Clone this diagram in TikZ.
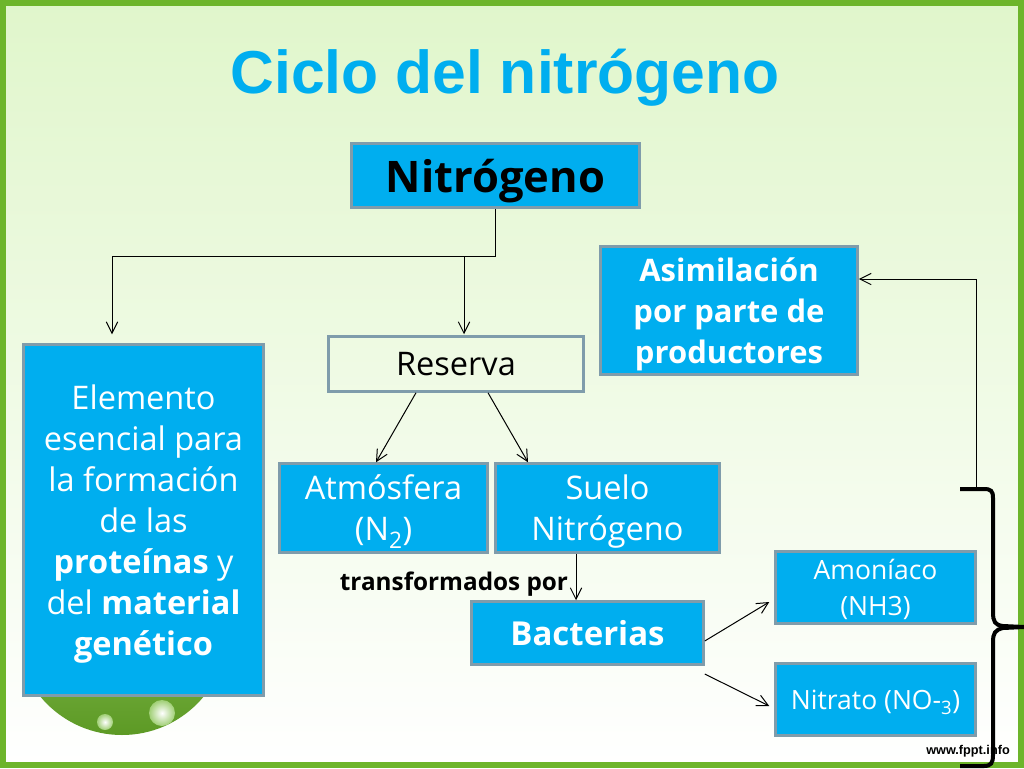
\documentclass[tikz,border=0pt]{standalone}
\usepackage{fontspec}
\setmainfont{Open Sans}
\newfontfamily\titlefont{Liberation Sans}
\usetikzlibrary{arrows.meta}
\definecolor{boxblue}{HTML}{00AEEF}
\definecolor{boxedge}{HTML}{7F9CAB}
\definecolor{framegreen}{HTML}{6DB52B}
\definecolor{paletop}{HTML}{E0F6CB}
\newcommand{\flowTip}{{Straight Barb[length=4mm,width=4mm,line width=1pt]}}
\newcommand{\bodyFont}{\fontsize{32.5}{41}\selectfont}
\newcommand{\smallFont}{\fontsize{26.5}{36}\selectfont}
\tikzset{
	blockbox/.style={draw=boxedge, line width=2.5pt, fill=boxblue, text=white, align=center, inner sep=0pt, text depth=0pt, font=\bodyFont},
	flow/.style={-\flowTip, line width=1pt},
}

\begin{document}
\begin{tikzpicture}[x=1pt, y=-1pt]
	\useasboundingbox (0,0) rectangle (1024,768);
	
	% background and frame
	\shade[top color=paletop, bottom color=white] (0,0) rectangle (1024,768);
	\draw[framegreen, line width=6pt] (3,3) rectangle (1021,765);
	
	% leaf under the big box
	\begin{scope}
		\clip (0,690) rectangle (300,760);
		\shade[top color=framegreen!70!white, bottom color=framegreen!85!black] (122,629) circle (106);
	\end{scope}
	\shade[inner color=white, outer color=framegreen!65!white] (105,722) circle (8);
	\shade[inner color=white, outer color=framegreen!65!white] (162,713) circle (13);
	
	\node[font=\titlefont\bfseries\fontsize{60.6}{70}\selectfont, text=boxblue] (title) at (505,78) {Ciclo del nitrógeno};
	
	\node[blockbox, minimum width=288pt, minimum height=64pt, text=black, text depth=-3pt, font=\bfseries\fontsize{43.5}{48}\selectfont] (nitrogeno) at (495.5,175.5) {Nitrógeno};
	\node[blockbox, minimum width=257pt, minimum height=128pt, text depth=-3pt, font=\fontsize{31}{41}\selectfont\bfseries] (asimilacion) at (729,310.5) {Asimilación\\por parte de\\productores};
	\node[blockbox, minimum width=255pt, minimum height=55pt, fill=none, text=black, text depth=-4pt] (reserva) at (456,364) {Reserva};
	\node[blockbox, minimum width=240pt, minimum height=351pt] (elemento) at (143.5,520) {Elemento\\esencial para\\la formación\\de las\\\textbf{proteínas} y\\del \textbf{material}\\\textbf{genético}};
	\node[blockbox, minimum width=208pt, minimum height=89pt] (atmosfera) at (383.5,508) {Atmósfera\\(N\textsubscript{2})};
	\node[blockbox, minimum width=224pt, minimum height=89pt] (suelo) at (607.5,508) {Suelo\\Nitrógeno};
	\node[blockbox, minimum width=232pt, minimum height=63pt, font=\fontsize{33}{41}\selectfont\bfseries] (bacterias) at (587.5,633) {Bacterias};
	\node[blockbox, minimum width=200pt, minimum height=72pt, font=\smallFont] (amoniaco) at (875.5,587.5) {Amoníaco\\(NH3)};
	\node[blockbox, minimum width=200pt, minimum height=72pt, font=\smallFont] (nitrato) at (875.5,699.5) {Nitrato (NO-\textsubscript{3})};
	
	\node[font=\bfseries\fontsize{24.3}{28}\selectfont] (transformados) at (454,584) {transformados por};
	\node[font=\titlefont\bfseries\fontsize{12.7}{16}\selectfont] (fppt) at (968,751) {www.fppt.info};
	
	% connectors
	\coordinate (splitR) at (nitrogeno.south |- 0,256);
	\coordinate (splitM) at (464,256);
	\coordinate (bracetop) at (976,488);
	\coordinate (braceup) at (976,279);
	\draw[line width=1pt] (nitrogeno.south) -- (splitR);
	\draw[flow] (splitR) -| ([xshift=-31.5pt, yshift=9pt]elemento.north);
	\draw[flow] (splitM) -- ([xshift=8pt, yshift=1pt]reserva.north);
	\draw[flow] ([xshift=-40pt]reserva.south) -- ([xshift=-7.5pt]atmosfera.north);
	\draw[flow] ([xshift=32pt]reserva.south) -- ([xshift=-79.5pt]suelo.north);
	\draw[flow] ([xshift=-31.5pt]suelo.south) -- ([xshift=-11.5pt]bacterias.north);
	\draw[flow] ([yshift=-8pt]bacterias.east) -- ([xshift=-5pt, yshift=-14.5pt]amoniaco.west);
	\draw[flow] ([yshift=-41pt]bacterias.east) -- ([xshift=-5pt, yshift=-6.5pt]nitrato.west);
	\draw[flow] (bracetop) -- (braceup) -- (asimilacion.east |- braceup);
	
	% brace on the two products
	\draw[line width=4pt] (960,489) -- (984,489) .. controls (991,489) and (993,491) .. (993,498) -- (993,612) .. controls (993,622) and (995,625) .. (1003,626) -- (1024,627);
	\draw[line width=4pt] (1024,627) -- (1003,628) .. controls (995,630) and (993,633) .. (993,642) -- (993,755) .. controls (993,763) and (991,766) .. (984,766) -- (960,766);
\end{tikzpicture}
\end{document}
